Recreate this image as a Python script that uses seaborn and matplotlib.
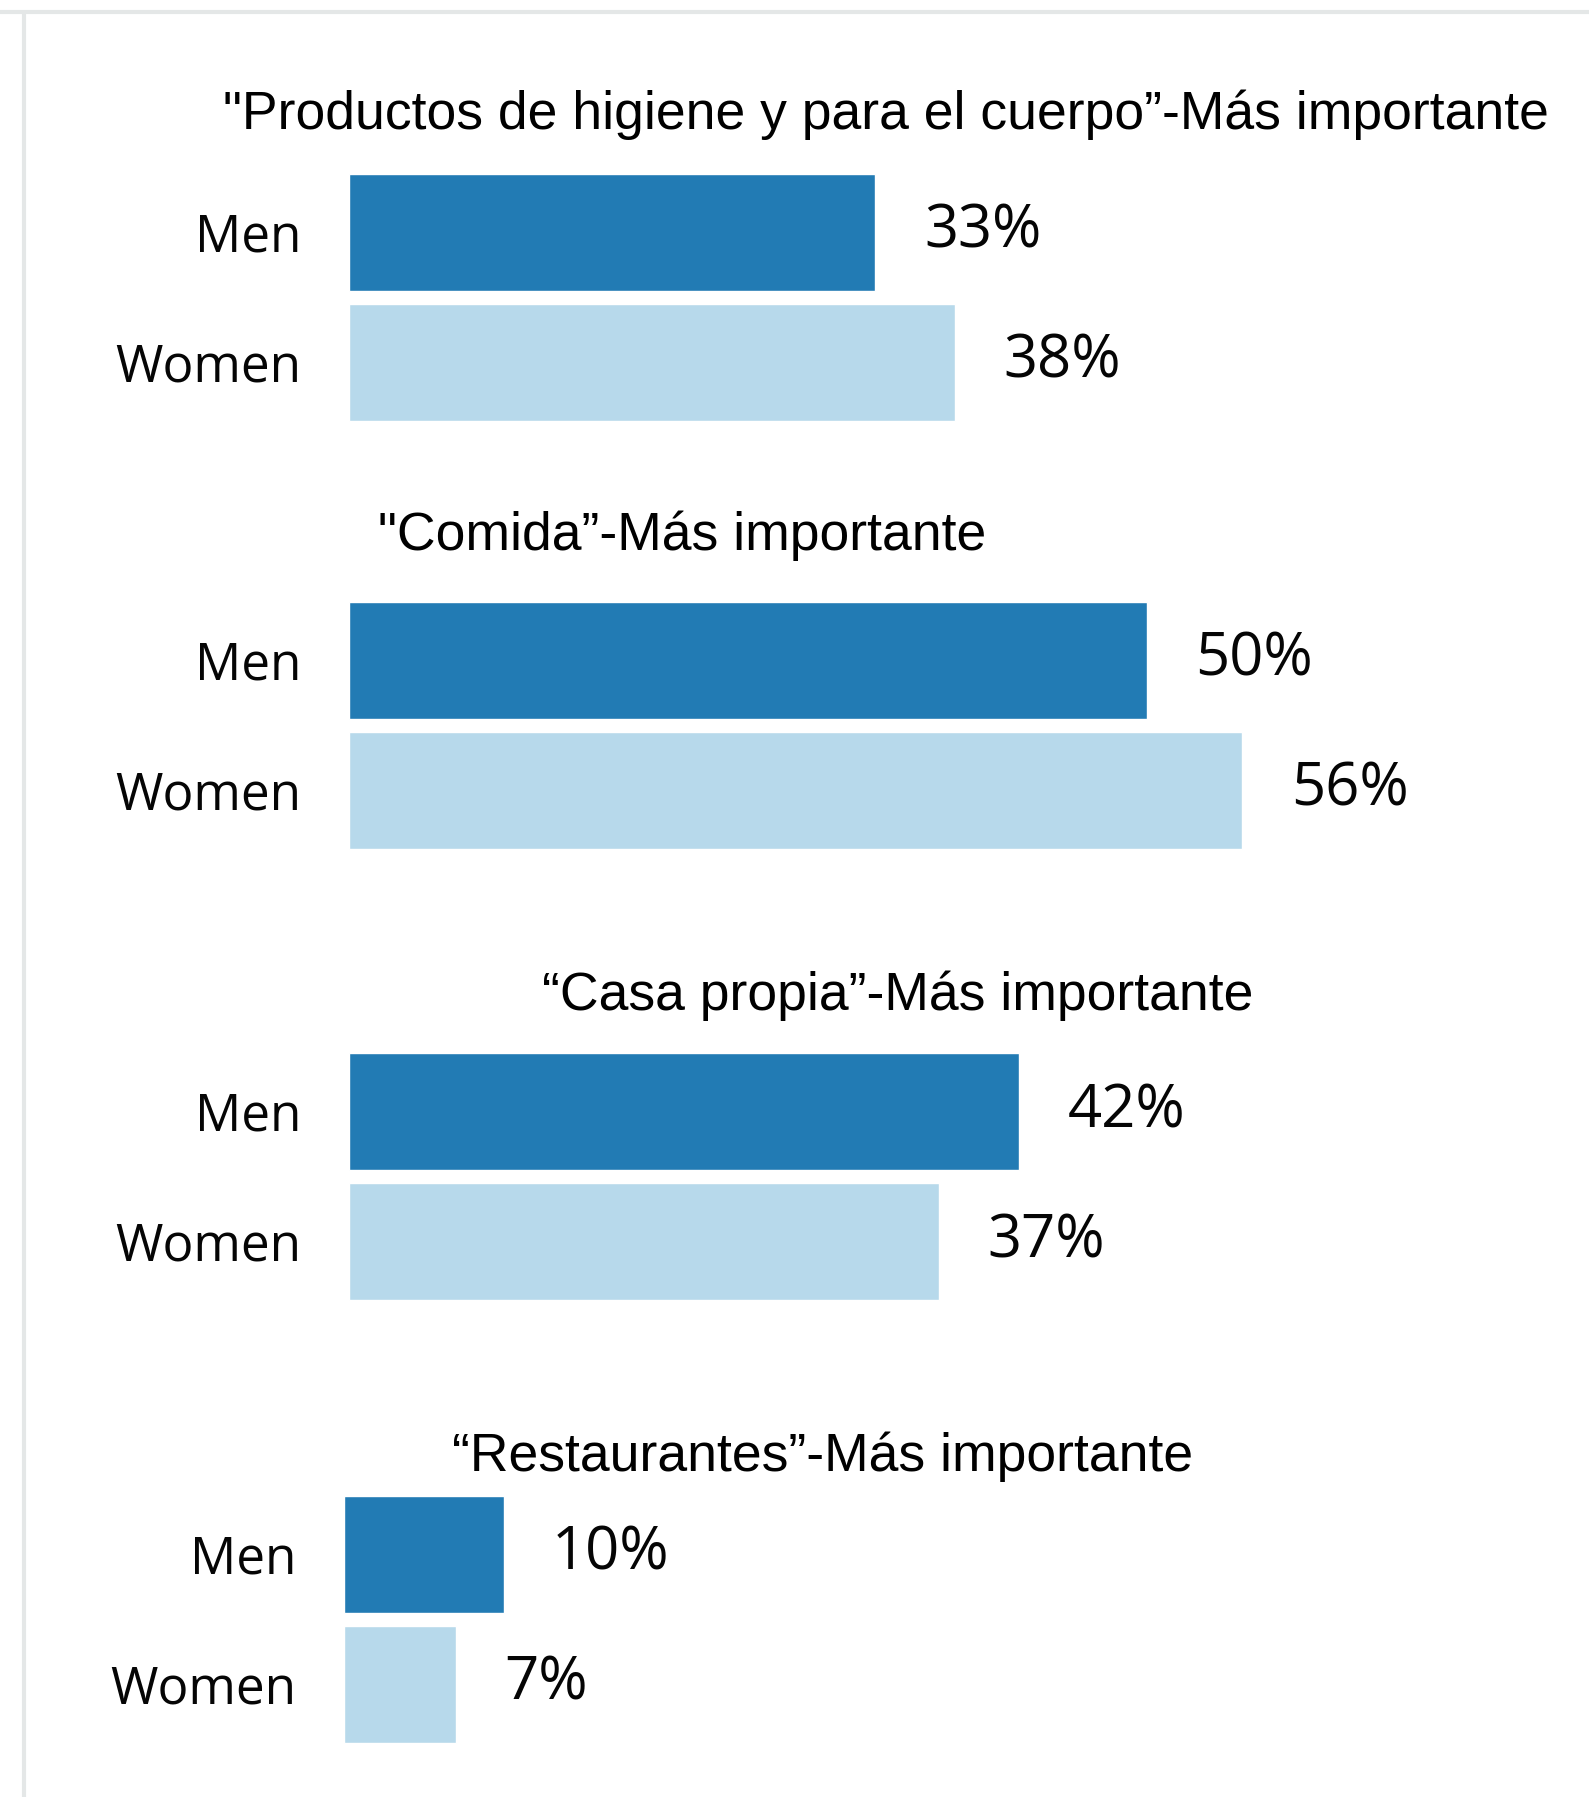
import matplotlib
matplotlib.use("Agg")
import matplotlib.pyplot as plt
from matplotlib.lines import Line2D
import pandas as pd
import seaborn as sns

# Survey shares by gender for each category
groups = ["Men", "Women"]
titles = [
    '"Productos de higiene y para el cuerpo\u201d-Más importante',
    '"Comida\u201d-Más importante',
    '\u201cCasa propia\u201d-Más importante',
    '\u201cRestaurantes\u201d-Más importante',
]
higiene = [33, 38]
comida = [50, 56]
casa_propia = [42, 37]
restaurantes = [10, 7]
panel_values = [higiene, comida, casa_propia, restaurantes]

palette = {"Men": "#227bb4", "Women": "#b7d9eb"}

sns.set_theme(style="white")
plt.rcParams["font.family"] = ["Open Sans", "DejaVu Sans"]

W, H = 1589, 1797
fig = plt.figure(figsize=(W / 100, H / 100), dpi=100)
fig.patch.set_facecolor("white")

# panel layout in pixels: (bar left edge, Men bar centre, title x, title y)
layout = [
    (349, 232, 223, 115),
    (349, 660, 378, 536),
    (349, 1111, 542, 996),
    (344, 1554, 452, 1457),
]
px_per_pct = 15.95
xmax = 75
slot = 130

for vals, title, (x0, yc, tx, ty) in zip(panel_values, titles, layout):
    top = yc - slot / 2
    ax = fig.add_axes([x0 / W, 1 - (top + 2 * slot) / H,
                       xmax * px_per_pct / W, 2 * slot / H])
    df = pd.DataFrame({"group": groups, "value": vals})
    sns.barplot(data=df, y="group", x="value", hue="group", palette=palette,
                orient="h", width=0.9, legend=False, ax=ax, saturation=1)
    ax.set_xlim(0, xmax)
    ax.set_ylim(1.5, -0.5)
    ax.set_xlabel("")
    ax.set_ylabel("")
    ax.set_xticks([])
    ax.tick_params(axis="y", length=0, pad=34, labelsize=37, labelcolor="#050505")
    for s in ax.spines.values():
        s.set_visible(False)
    for c in ax.containers:
        ax.bar_label(c, labels=[f"{v:.0f}%" for v in c.datavalues],
                     padding=35, fontsize=43, color="#050505")
    fig.text(tx / W, 1 - ty / H, title, ha="left", va="center",
             fontsize=38.5, family=["Liberation Sans", "DejaVu Sans"], color="black")

# light frame along the top and left edges
fig.add_artist(Line2D([0, 1], [1 - 12 / H, 1 - 12 / H], color="#e4e7e7",
                      linewidth=3, transform=fig.transFigure))
fig.add_artist(Line2D([24 / W, 24 / W], [0, 1 - 12 / H], color="#e4e7e7",
                      linewidth=3, transform=fig.transFigure))

fig.savefig("out.png", dpi=100, facecolor="white")
